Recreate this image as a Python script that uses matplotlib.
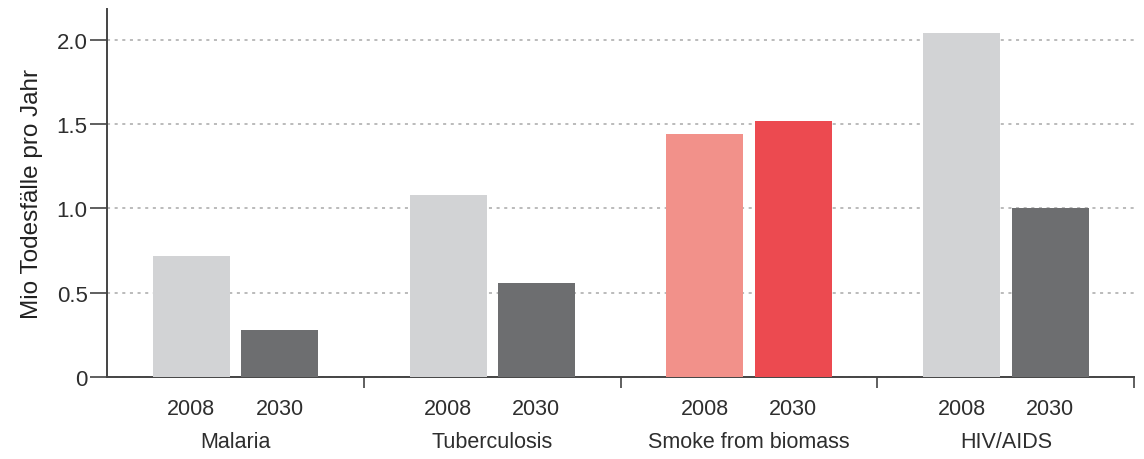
import numpy as np
import matplotlib
matplotlib.use('Agg')
import matplotlib.pyplot as plt
from matplotlib.transforms import blended_transform_factory

# Deaths per year (millions), 2008 vs. 2030 projection
causes = ["Malaria", "Tuberculosis", "Smoke from biomass", "HIV/AIDS"]
years = ["2008", "2030"]
deaths_2008 = [0.72, 1.08, 1.44, 2.04]
deaths_2030 = [0.28, 0.56, 1.52, 1.00]

colors_2008 = ["#d2d3d5", "#d2d3d5", "#f2918a", "#d2d3d5"]
colors_2030 = ["#6d6e70", "#6d6e70", "#ec4a50", "#6d6e70"]

label_font = ["Liberation Sans", "DejaVu Sans"]

fig = plt.figure(figsize=(11.44, 4.6), dpi=100)
ax = fig.add_axes([0.0935, 0.178, 0.898, 0.80])

x = np.arange(len(causes))
width = 0.30
offset = 0.172

ax.bar(x - offset, deaths_2008, width, color=colors_2008, zorder=3)
ax.bar(x + offset, deaths_2030, width, color=colors_2030, zorder=3)

ax.set_xlim(-0.5, len(causes) - 0.5)
ax.set_ylim(0, 2.18)

# y axis
ax.set_yticks([0, 0.5, 1.0, 1.5, 2.0])
ax.set_yticklabels(["0", "0.5", "1.0", "1.5", "2.0"],
                   family=label_font, fontsize=16, color="#2e2e2e")
ax.tick_params(axis="y", length=12, width=1.2, color="#444444", pad=2)
ax.set_ylabel("Mio Todesfälle pro Jahr", family=label_font,
              fontsize=17.5, color="#222222", labelpad=10)
ax.yaxis.grid(True, linestyle=(0, (2, 3)), color="#a8a8a8", linewidth=1.1, zorder=0)

# x axis: year labels under each bar, separators between groups
pos = np.concatenate([x - offset, x + offset])
ax.set_xticks(pos)
ax.set_xticklabels([years[0]] * len(causes) + [years[1]] * len(causes),
                   family=label_font, fontsize=15.5, color="#2e2e2e")
ax.tick_params(axis="x", length=0, pad=15)
ax.set_xticks(np.arange(len(causes)) + 0.5, minor=True)
ax.tick_params(axis="x", which="minor", length=8, width=1.2, color="#444444")

trans = blended_transform_factory(ax.transData, ax.transAxes)
for i, name in enumerate(causes):
    ax.text(i, -0.175, name, transform=trans, ha="center", va="center",
            family=label_font, fontsize=15.5, color="#2e2e2e")

for side in ["top", "right"]:
    ax.spines[side].set_visible(False)
for side in ["left", "bottom"]:
    ax.spines[side].set_color("#444444")
    ax.spines[side].set_linewidth(1.4)

fig.savefig("out.png", dpi=100)
